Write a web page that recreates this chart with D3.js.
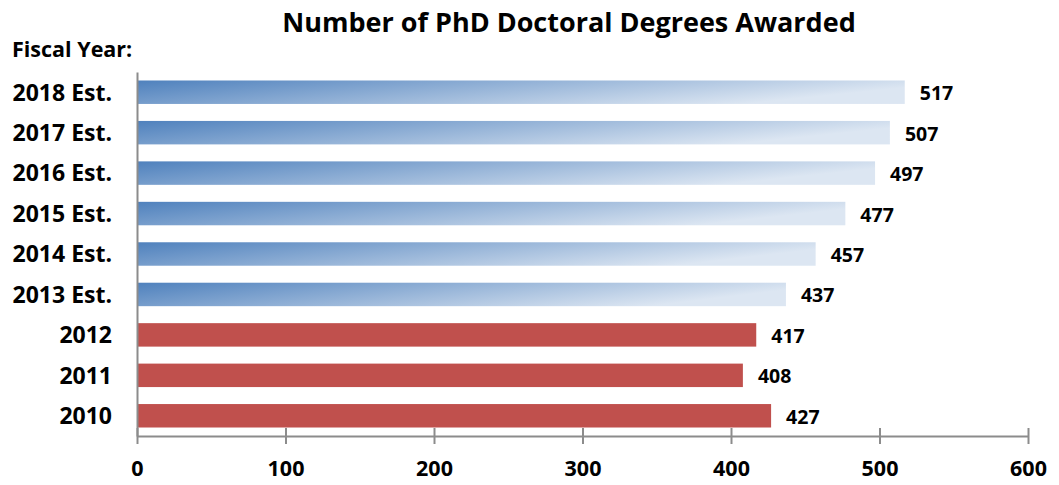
<!DOCTYPE html>
<html><head><meta charset="utf-8">
<script src="https://cdn.jsdelivr.net/npm/d3@7"></script>
<style>
body{margin:0;background:#fff;}
text{font-family:"Open Sans",sans-serif;font-weight:bold;fill:#000;}
</style></head>
<body><svg id="c" width="1059" height="485"></svg>
<script>
const categories = ["2018 Est.","2017 Est.","2016 Est.","2015 Est.","2014 Est.","2013 Est.","2012","2011","2010"];
const values = [517,507,497,477,457,437,417,408,427];
const estimated = [true,true,true,true,true,true,false,false,false];
const xTicks = [0,100,200,300,400,500,600];
const title = "Number of PhD Doctoral Degrees Awarded";
const yTitle = "Fiscal Year:";

const svg = d3.select("#c");
const m = {left:137, right:1028, top:72, bottom:436};
const x = d3.scaleLinear().domain([0,600]).range([m.left,m.right]);
const y = d3.scaleBand().domain(categories).range([m.top,m.bottom]).paddingInner(0.42).paddingOuter(0.21);

const defs = svg.append("defs");
const g = defs.append("linearGradient").attr("id","blueGrad").attr("x1","0").attr("y1","0").attr("x2","1").attr("y2","0.3");
g.append("stop").attr("offset","0").attr("stop-color","#4F81BD");
g.append("stop").attr("offset","1").attr("stop-color","#DCE6F2");

svg.append("text").attr("x",569).attr("y",32).attr("text-anchor","middle").style("font-size","27px").text(title);
svg.append("text").attr("x",12).attr("y",57).style("font-size","21.5px").text(yTitle);

svg.selectAll("rect.bar").data(categories).join("rect").attr("class","bar")
  .attr("x",x(0)).attr("y",d=>y(d)).attr("height",y.bandwidth())
  .attr("width",(d,i)=>x(values[i])-x(0))
  .attr("fill",(d,i)=>estimated[i]?"url(#blueGrad)":"#C0504D");

svg.selectAll("text.val").data(categories).join("text").attr("class","val")
  .attr("x",(d,i)=>x(values[i])+15).attr("y",d=>y(d)+y.bandwidth()/2+1).attr("dy","0.36em")
  .style("font-size","19.5px").text((d,i)=>values[i]);

// x axis
const xa = svg.append("g").attr("transform",`translate(0,${m.bottom})`)
  .call(d3.axisBottom(x).tickValues(xTicks).tickSize(8).tickSizeOuter(0));
xa.select(".domain").attr("stroke","#8c8c8c").attr("stroke-width",2);
xa.selectAll(".tick line").attr("stroke","#8c8c8c").attr("stroke-width",2).attr("y1",-8).attr("y2",8);
xa.selectAll(".tick text").attr("y",25).style("font-size","21.5px").style("font-family","'Open Sans',sans-serif");

// y axis
const ya = svg.append("g").attr("transform",`translate(${m.left},0)`)
  .call(d3.axisLeft(y).tickSize(0).tickPadding(25).tickSizeOuter(0));
ya.select(".domain").attr("stroke","#8c8c8c").attr("stroke-width",2);
ya.selectAll(".tick text").attr("dy","0.36em").style("font-size","23px").style("font-family","'Open Sans',sans-serif");
</script></body></html>
